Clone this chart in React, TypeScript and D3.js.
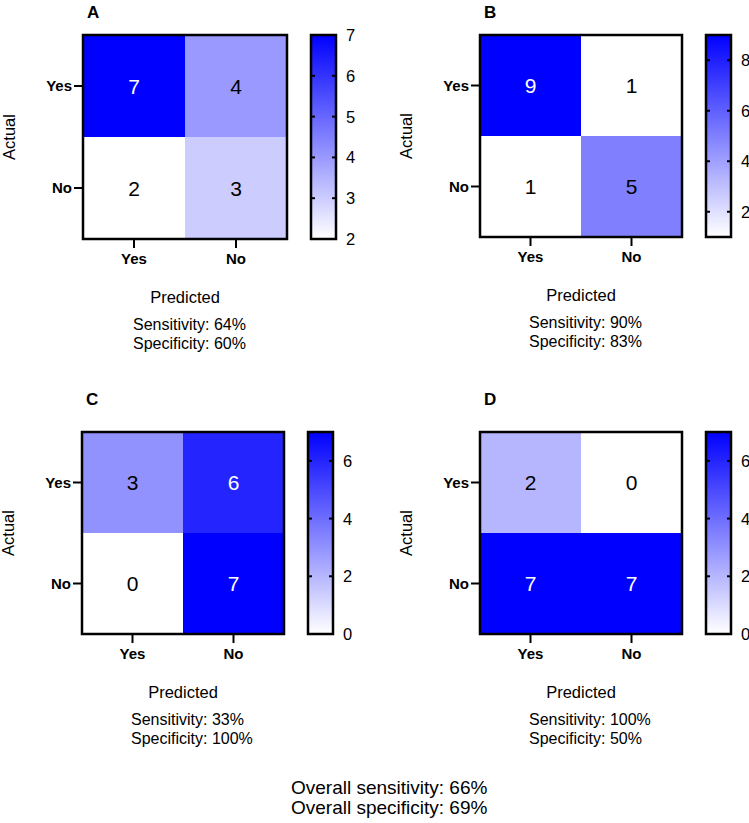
import React from "react";
import * as d3 from "d3";

const predictedLabels = ["Yes", "No"];
const actualLabels = ["Yes", "No"];
const panelIds = ["A", "B", "C", "D"];

// rows = actual (Yes, No), cols = predicted (Yes, No)
const valuesA = [[7, 4], [2, 3]];
const valuesB = [[9, 1], [1, 5]];
const valuesC = [[3, 6], [0, 7]];
const valuesD = [[2, 0], [7, 7]];

const colorRanges = [[2, 7], [1, 9], [0, 7], [0, 7]];
const colorTicks = [[2, 3, 4, 5, 6, 7], [2, 4, 6, 8], [0, 2, 4, 6], [0, 2, 4, 6]];

const sensitivityTexts = ["Sensitivity: 64%", "Sensitivity: 90%", "Sensitivity: 33%", "Sensitivity: 100%"];
const specificityTexts = ["Specificity: 60%", "Specificity: 83%", "Specificity: 100%", "Specificity: 50%"];
const overallTexts = ["Overall sensitivity: 66%", "Overall specificity: 69%"];

const allValues = [valuesA, valuesB, valuesC, valuesD];

const FONT = "'Liberation Sans', Arial, Helvetica, sans-serif";

const layout = [
  { x0: 83, y0: 35, size: 204, labelDy: -17 },
  { x0: 480, y0: 35, size: 202, labelDy: -17 },
  { x0: 82, y0: 432, size: 202, labelDy: -27 },
  { x0: 480, y0: 432, size: 202, labelDy: -27 },
];

function Panel({ idx }: { idx: number }) {
  const { x0, y0, size, labelDy } = layout[idx];
  const values = allValues[idx];
  const [vmin, vmax] = colorRanges[idx];
  const color = d3.scaleLinear<string>().domain([vmin, vmax]).range(["#ffffff", "#0000ff"]).clamp(true);
  const xBand = d3.scaleBand().domain(predictedLabels).range([0, size]);
  const yBand = d3.scaleBand().domain(actualLabels).range([0, size]);
  const cbX = size + 24;
  const cbW = 25;
  const cbScale = d3.scaleLinear().domain([vmin, vmax]).range([size, 0]);
  const gradId = `cbgrad${idx}`;
  const stops = d3.range(0, 11).map((i) => i / 10);

  return (
    <g transform={`translate(${x0},${y0})`} fontFamily={FONT}>
      <defs>
        <linearGradient id={gradId} x1="0" y1="1" x2="0" y2="0">
          {stops.map((t) => (
            <stop key={t} offset={`${t * 100}%`} stopColor={color(vmin + t * (vmax - vmin))} />
          ))}
        </linearGradient>
      </defs>
      <text x={4} y={labelDy} fontSize={17} fontWeight="bold" fill="#000">
        {panelIds[idx]}
      </text>
      {actualLabels.map((a, r) =>
        predictedLabels.map((p, c) => {
          const v = values[r][c];
          const t = (v - vmin) / (vmax - vmin);
          return (
            <g key={`${r}-${c}`}>
              <rect
                x={xBand(p)!}
                y={yBand(a)!}
                width={xBand.bandwidth()}
                height={yBand.bandwidth()}
                fill={color(v)}
              />
              <text
                x={xBand(p)! + xBand.bandwidth() / 2}
                y={yBand(a)! + yBand.bandwidth() / 2 + 7.5}
                textAnchor="middle"
                fontSize={21}
                fill={t > 0.5 ? "#ffffff" : "#000000"}
              >
                {v}
              </text>
            </g>
          );
        })
      )}
      <rect x={0} y={0} width={size} height={size} fill="none" stroke="#000" strokeWidth={2.5} />
      {actualLabels.map((a) => {
        const cy = yBand(a)! + yBand.bandwidth() / 2;
        return (
          <g key={`y-${a}`}>
            <line x1={-9} x2={0} y1={cy} y2={cy} stroke="#000" strokeWidth={2} />
            <text x={-11} y={cy + 5} textAnchor="end" fontSize={15} fontWeight="bold">
              {a}
            </text>
          </g>
        );
      })}
      {predictedLabels.map((p) => {
        const cx = xBand(p)! + xBand.bandwidth() / 2;
        return (
          <g key={`x-${p}`}>
            <line x1={cx} x2={cx} y1={size} y2={size + 9} stroke="#000" strokeWidth={2} />
            <text x={cx} y={size + 25} textAnchor="middle" fontSize={15} fontWeight="bold">
              {p}
            </text>
          </g>
        );
      })}
      <text
        transform={`translate(${-68},${size / 2}) rotate(-90)`}
        textAnchor="middle"
        fontSize={16.5}
      >
        Actual
      </text>
      <text x={size / 2} y={size + 64} textAnchor="middle" fontSize={16.5}>
        Predicted
      </text>
      <text x={size / 2 - 52} y={size + 91} fontSize={16}>
        {sensitivityTexts[idx]}
      </text>
      <text x={size / 2 - 52} y={size + 110} fontSize={16}>
        {specificityTexts[idx]}
      </text>
      <rect x={cbX} y={0} width={cbW} height={size} fill={`url(#${gradId})`} />
      {colorTicks[idx].map((tv) => {
        const ty = cbScale(tv);
        const inner = tv > vmin && tv < vmax;
        return (
          <g key={`cb-${tv}`}>
            {inner && (
              <>
                <line x1={cbX} x2={cbX + 4} y1={ty} y2={ty} stroke="#000" strokeWidth={2} />
                <line x1={cbX + cbW - 4} x2={cbX + cbW} y1={ty} y2={ty} stroke="#000" strokeWidth={2} />
              </>
            )}
            <text x={cbX + cbW + 10} y={ty + 6} fontSize={16.5}>
              {tv}
            </text>
          </g>
        );
      })}
      <rect x={cbX} y={0} width={cbW} height={size} fill="none" stroke="#000" strokeWidth={2.5} />
    </g>
  );
}

export default function App() {
  return (
    <svg
      width={749}
      height={823}
      viewBox="0 0 749 823"
      style={{ position: "absolute", left: 0, top: 0, background: "#fff" }}
    >
      <rect x={0} y={0} width={749} height={823} fill="#fff" />
      {panelIds.map((id, i) => (
        <Panel key={id} idx={i} />
      ))}
      {overallTexts.map((t, i) => (
        <text key={t} x={291} y={794 + i * 20} fontSize={19} fontFamily={FONT}>
          {t}
        </text>
      ))}
    </svg>
  );
}
